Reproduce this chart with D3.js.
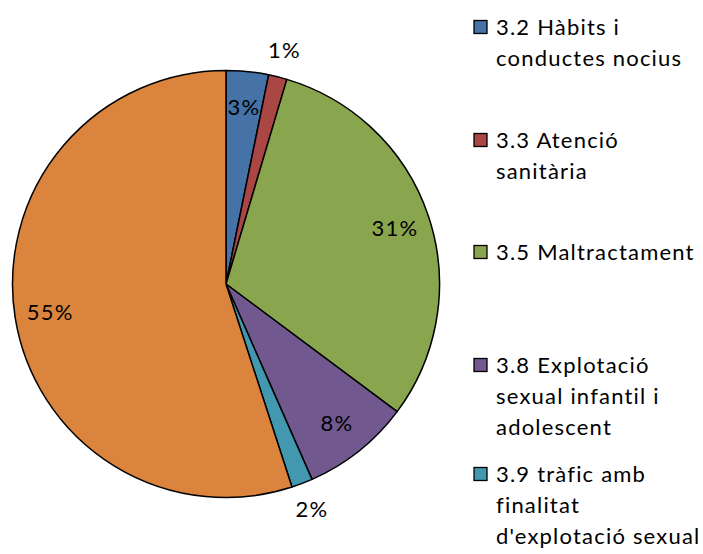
<!DOCTYPE html>
<html>
<head>
<meta charset="utf-8">
<script src="https://cdn.jsdelivr.net/npm/d3@7"></script>
<style>
  body { margin: 0; background: #fff; }
  text { font-family: Lato, "Open Sans", sans-serif; fill: #000; letter-spacing: 1.2px; }
</style>
</head>
<body>
<div id="chart_area"></div>
<script>

// slices, clockwise from 12 o'clock
var categories = ["3.2 Hàbits i conductes nocius", "3.3 Atenció sanitària", "3.5 Maltractament",
                  "3.8 Explotació sexual infantil i adolescent", "3.9 tràfic amb finalitat d'explotació sexual", "Altres"];
var values = [3.2, 1.4, 30.6, 8.2, 1.6, 55.0];
var pct_labels = ["3%", "1%", "31%", "8%", "2%", "55%"];
var colours = ["#4572A7", "#AA4643", "#89A54E", "#71588F", "#4198AF", "#DB843D"];

// legend text, already broken into lines (only first 5 fit in the frame)
var legend_lines = [
	["3.2 Hàbits i", "conductes nocius"],
	["3.3 Atenció", "sanitària"],
	["3.5 Maltractament"],
	["3.8 Explotació", "sexual infantil i", "adolescent"],
	["3.9 tràfic amb", "finalitat", "d'explotació sexual"]
];
var legend_rows = [27, 140, 252, 365, 474]; // y of first line of each entry

var frame_width = 703, frame_height = 554;
var cx = 226, cy = 284, radius = 213.5;

var frame = d3.select("#chart_area").append("svg")
	.attr("width", frame_width)
	.attr("height", frame_height);

var data = values.map(function(v, i) {
	return {name: categories[i], value: v, label: pct_labels[i], colour: colours[i]};
});

var pie = d3.pie().sort(null).value(function(d) { return d.value; });
var arc = d3.arc().innerRadius(0).outerRadius(radius);
var arcs = pie(data);

var canvas = frame.append("g")
	.attr("transform", "translate(" + cx + "," + cy + ")");

canvas.selectAll(".slice")
	.data(arcs)
	.enter().append("path")
	.attr("class", "slice")
	.attr("d", arc)
	.attr("fill", function(d) { return d.data.colour; })
	.attr("stroke", "#000")
	.attr("stroke-width", 1.5)
	.attr("stroke-linejoin", "round");

// labels: inside end for big slices, outside for the tiny ones
var inner_label = d3.arc().innerRadius(178).outerRadius(178);
var outer_label = d3.arc().innerRadius(241).outerRadius(241);

canvas.selectAll(".pct")
	.data(arcs)
	.enter().append("text")
	.attr("class", "pct")
	.attr("transform", function(d) {
		var a = d.data.value < 2 ? outer_label : inner_label;
		return "translate(" + a.centroid(d) + ")";
	})
	.attr("text-anchor", "middle")
	.attr("dy", "0.35em")
	.style("font-size", "22px")
	.text(function(d) { return d.data.label; });

// legend
var legend = frame.append("g").attr("class", "legend");
var line_h = 31;

var items = legend.selectAll(".item")
	.data(legend_lines)
	.enter().append("g")
	.attr("class", "item")
	.attr("transform", function(d, i) { return "translate(474," + legend_rows[i] + ")"; });

items.append("rect")
	.attr("x", 0)
	.attr("y", -6.5)
	.attr("width", 13)
	.attr("height", 13)
	.attr("fill", function(d, i) { return colours[i]; })
	.attr("stroke", "#000")
	.attr("stroke-width", 1.3);

items.append("text")
	.attr("x", 22)
	.style("font-size", "22px")
	.selectAll("tspan")
	.data(function(d) { return d; })
	.enter().append("tspan")
	.attr("x", 22)
	.attr("y", function(d, j) { return j * line_h; })
	.attr("dy", "0.35em")
	.text(function(d) { return d; });

</script>
</body>
</html>
